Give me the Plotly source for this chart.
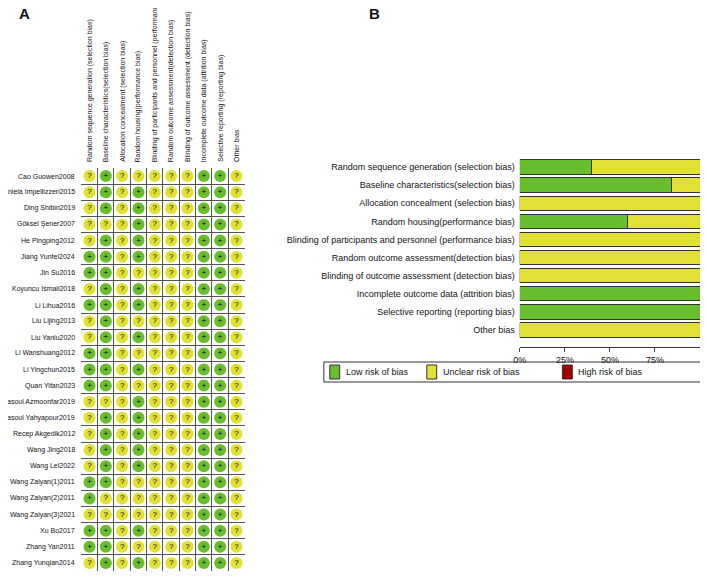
import plotly.graph_objects as go

W, H = 708, 579
PAD = 8  # page body margin
FW, FH = W - 2 * PAD, H - 2 * PAD

domains = [
    "Random sequence generation (selection bias)",
    "Baseline characteristics(selection bias)",
    "Allocation concealment (selection bias)",
    "Random housing(performance bias)",
    "Blinding of participants and personnel (performance bias)",
    "Random outcome assessment(detection bias)",
    "Blinding of outcome assessment (detection bias)",
    "Incomplete outcome data (attrition bias)",
    "Selective reporting (reporting bias)",
    "Other bias",
]

studies = [
    "Cao Guowen2008", "Daniela Impellizzeri2015", "Ding Shibin2019", "Göksel Şener2007",
    "He Pingping2012", "Jiang Yunfei2024", "Jin Su2016", "Koyuncu Ismail2018",
    "Li Lihua2016", "Liu Lijing2013", "Liu Yanlu2020", "Li Wanshuang2012",
    "Li Yingchun2015", "Quan Yifan2023", "Rasoul Azmoonfar2019", "Rasoul Yahyapour2019",
    "Recep Akgedik2012", "Wang Jing2018", "Wang Lei2022", "Wang Zaiyan(1)2011",
    "Wang Zaiyan(2)2011", "Wang Zaiyan(3)2021", "Xu Bo2017", "Zhang Yan2011",
    "Zhang Yunqian2014",
]

# 1 = low risk (+), 0 = unclear (?)
grid = [
    [0, 1, 0, 0, 0, 0, 0, 1, 1, 0],
    [0, 1, 0, 1, 0, 0, 0, 1, 1, 0],
    [0, 1, 0, 1, 0, 0, 0, 1, 1, 0],
    [0, 0, 0, 1, 0, 0, 0, 1, 1, 0],
    [0, 1, 0, 1, 0, 0, 0, 1, 1, 0],
    [1, 1, 0, 1, 0, 0, 0, 1, 1, 0],
    [1, 1, 0, 0, 0, 0, 0, 1, 1, 0],
    [0, 1, 0, 1, 0, 0, 0, 1, 1, 0],
    [1, 1, 0, 1, 0, 0, 0, 1, 1, 0],
    [0, 1, 0, 0, 0, 0, 0, 1, 1, 0],
    [0, 1, 0, 1, 0, 0, 0, 1, 1, 0],
    [1, 1, 0, 0, 0, 0, 0, 1, 1, 0],
    [1, 1, 0, 1, 0, 0, 0, 1, 1, 0],
    [1, 1, 0, 0, 0, 0, 0, 1, 1, 0],
    [0, 0, 0, 1, 0, 0, 0, 1, 1, 0],
    [0, 1, 0, 1, 0, 0, 0, 1, 1, 0],
    [0, 1, 0, 1, 0, 0, 0, 1, 1, 0],
    [0, 1, 0, 1, 0, 0, 0, 1, 1, 0],
    [0, 1, 0, 1, 0, 0, 0, 1, 1, 0],
    [1, 1, 0, 0, 0, 0, 0, 1, 1, 0],
    [1, 0, 0, 0, 0, 0, 0, 1, 1, 0],
    [0, 0, 0, 0, 0, 0, 0, 1, 1, 0],
    [1, 1, 0, 1, 0, 0, 0, 1, 1, 0],
    [1, 1, 0, 0, 0, 0, 0, 1, 1, 0],
    [0, 1, 0, 1, 0, 0, 0, 1, 1, 0],
]

# panel B percentages (as drawn)
low_pct = [40, 84, 0, 60, 0, 0, 0, 100, 100, 0]
unclear_pct = [100 - v for v in low_pct]
high_pct = [0] * 10

GREEN = "#69be2d"
YELLOW = "#e1e135"
RED = "#a50000"
FONT = "Liberation Sans"
BLACK = "#111"

def px(x):
    return (x - PAD) / FW

def py(y):
    return 1 - (y - PAD) / FH

fig = go.Figure()

# panel A
gx, gy, gc, gt = [], [], [], []
for r, row in enumerate(grid):
    for c, v in enumerate(row):
        gx.append(c)
        gy.append(r)
        gc.append(GREEN if v else YELLOW)
        gt.append("+" if v else "?")
fig.add_trace(go.Scatter(
    x=gx, y=gy, mode="markers+text", text=gt, textposition="middle center",
    textfont=dict(size=8, color="black", family=FONT),
    marker=dict(size=12, color=gc, line=dict(width=0)),
    xaxis="x", yaxis="y", showlegend=False, hoverinfo="skip", cliponaxis=False))

# panel B
fig.add_trace(go.Bar(y=domains, x=low_pct, orientation="h", marker=dict(color=GREEN, line=dict(color="#333", width=1)),
                     xaxis="x2", yaxis="y2", showlegend=False))
fig.add_trace(go.Bar(y=domains, x=unclear_pct, orientation="h", marker=dict(color=YELLOW, line=dict(color="#333", width=1)),
                     xaxis="x2", yaxis="y2", showlegend=False))
fig.add_trace(go.Bar(y=domains, x=high_pct, orientation="h", marker=dict(color=RED, line=dict(color="#333", width=0)),
                     xaxis="x2", yaxis="y2", showlegend=False))

ann = []
for r, s in enumerate(studies):
    ann.append(dict(x=px(71), y=r, xref="paper", yref="y", text=s, showarrow=False,
                    xanchor="right", font=dict(size=7, color=BLACK)))
for c, d in enumerate(domains):
    ann.append(dict(x=c, y=py(164), xref="x", yref="paper", text=d, showarrow=False,
                    textangle=-90, xanchor="center", yanchor="bottom", font=dict(size=7, color=BLACK)))
ann.append(dict(x=px(10), y=py(3), xref="paper", yref="paper", text="<b>A</b>", showarrow=False,
                xanchor="left", yanchor="top", font=dict(size=15, color=BLACK)))
ann.append(dict(x=px(364), y=py(3), xref="paper", yref="paper", text="<b>B</b>", showarrow=False,
                xanchor="left", yanchor="top", font=dict(size=15, color=BLACK)))

shapes = [dict(type="rect", xref="paper", yref="paper", x0=px(320), x1=px(706), y0=py(362), y1=py(382),
               line=dict(color="#333", width=1))]
for lx, col, txt in [(326, GREEN, "Low risk of bias"), (424, YELLOW, "Unclear risk of bias"), (561, RED, "High risk of bias")]:
    shapes.append(dict(type="rect", xref="paper", yref="paper", x0=px(lx), x1=px(lx + 10), y0=py(365), y1=py(379),
                       fillcolor=col, line=dict(color="#333", width=1)))
    ann.append(dict(x=px(lx + 14), y=py(372), xref="paper", yref="paper", text=txt, showarrow=False,
                    xanchor="left", font=dict(size=9, color=BLACK)))

gridvals_x = [i - 0.5 for i in range(11)]
gridvals_y = [i - 0.5 for i in range(26)]

fig.update_layout(
    width=FW, height=FH, margin=dict(l=0, r=0, t=0, b=0),
    paper_bgcolor="white", plot_bgcolor="white",
    font=dict(family=FONT, color=BLACK),
    barmode="stack", bargap=0.2,
    annotations=ann, shapes=shapes,
    xaxis=dict(domain=[px(75), px(240)], range=[-0.5, 9.5], tickvals=gridvals_x, showticklabels=False,
               showgrid=True, gridcolor="#555", gridwidth=1, zeroline=False, ticks=""),
    yaxis=dict(domain=[max(py(577), 0), py(168)], range=[24.5, -0.5], tickvals=gridvals_y, showticklabels=False,
               showgrid=True, gridcolor="#555", gridwidth=1, zeroline=False, ticks=""),
    xaxis2=dict(domain=[px(518), min(px(706), 1)], range=[0, 100], anchor="free", position=py(347),
                tickvals=[0, 25, 50, 75, 100], ticktext=["0%", "25%", "50%", "75%", "100%"],
                ticks="outside", ticklen=4, showline=True, linecolor="#333", showgrid=False,
                zeroline=False, tickfont=dict(size=9, color=BLACK)),
    yaxis2=dict(domain=[py(339), py(158)], anchor="x2", autorange="reversed", showgrid=False,
                ticks="", tickfont=dict(size=9, color=BLACK), ticklabelstandoff=4),
)

fig.write_html("out.html")
